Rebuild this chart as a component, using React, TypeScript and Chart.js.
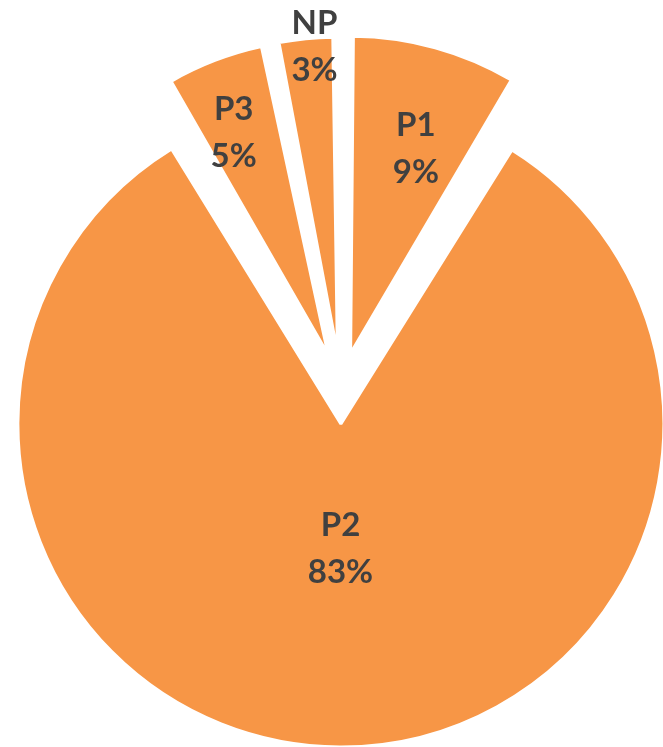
import React, { useEffect, useRef } from "react";
import { Chart, registerables } from "chart.js";

Chart.register(...registerables);

// ---- data ----
const categories = ["P1", "P2", "P3", "NP"];
const shares = [8.6, 82.9, 5.3, 3.2];

// ---- style / layout constants ----
const SLICE_COLOR = "#F79646";
const LABEL_COLOR = "#404040";
const PIE_RADIUS = 320;
const SLICE_RADIUS = [317, 323, 315, 315];
const EXPLODE = 144; // chart.js translates arcs by offset / 4
const LABEL_DIST = [216, 124, 242, 308];
const LABEL_NUDGE_DEG = [2.1, 0, -1.9, 1.5];
const FONT = "bold 33px Lato, 'Open Sans', sans-serif";
const LINE_GAP = 47;

const sliceRadiusPlugin = {
  id: "sliceRadius",
  afterDatasetUpdate(chart: any, args: any) {
    const shift = EXPLODE / 4;
    args.meta.data.forEach((el: any, i: number) => {
      const circ = el.endAngle - el.startAngle;
      const fix = 1 - Math.sin(Math.min(Math.PI, circ || 0));
      el.outerRadius = SLICE_RADIUS[i] - shift * fix;
    });
  },
};

const labelPlugin = {
  id: "sliceLabels",
  afterDatasetsDraw(chart: any) {
    const meta = chart.getDatasetMeta(0);
    const data = chart.data.datasets[0].data as number[];
    const total = data.reduce((a: number, b: number) => a + b, 0);
    const ctx = chart.ctx;
    const shift = EXPLODE / 4;
    ctx.save();
    ctx.font = FONT;
    ctx.fillStyle = LABEL_COLOR;
    ctx.textAlign = "center";
    ctx.textBaseline = "alphabetic";
    const capHalf = 12;
    meta.data.forEach((el: any, i: number) => {
      const mid = (el.startAngle + el.endAngle) / 2;
      const cx = el.x + Math.cos(mid) * shift;
      const cy = el.y + Math.sin(mid) * shift;
      const a = mid + (LABEL_NUDGE_DEG[i] * Math.PI) / 180;
      const x = cx + Math.cos(a) * LABEL_DIST[i];
      const y = cy + Math.sin(a) * LABEL_DIST[i];
      const pct = Math.round((data[i] / total) * 100) + "%";
      ctx.fillText(chart.data.labels[i], x, y - LINE_GAP / 2 + capHalf);
      ctx.fillText(pct, x, y + LINE_GAP / 2 + capHalf);
    });
    ctx.restore();
  },
};

export default function App() {
  const ref = useRef<HTMLCanvasElement>(null);
  useEffect(() => {
    if (!ref.current) return;
    const chart = new Chart(ref.current, {
      type: "pie",
      data: {
        labels: categories,
        datasets: [
          {
            data: shares,
            backgroundColor: SLICE_COLOR,
            borderColor: "#ffffff",
            borderWidth: 3,
            offset: EXPLODE,
            hoverOffset: 0,
          },
        ],
      },
      options: {
        responsive: false,
        animation: false,
        radius: PIE_RADIUS,
        layout: { padding: { left: 19, top: 29, right: 0, bottom: 0 } },
        plugins: {
          legend: { display: false },
          tooltip: { enabled: false },
        },
        events: [],
      } as any,
      plugins: [sliceRadiusPlugin, labelPlugin],
    });
    return () => chart.destroy();
  }, []);
  return (
    <div style={{ position: "fixed", left: 0, top: 0, width: 663, height: 747, background: "#fff" }}>
      <canvas ref={ref} width={663} height={747} style={{ display: "block" }} />
    </div>
  );
}
